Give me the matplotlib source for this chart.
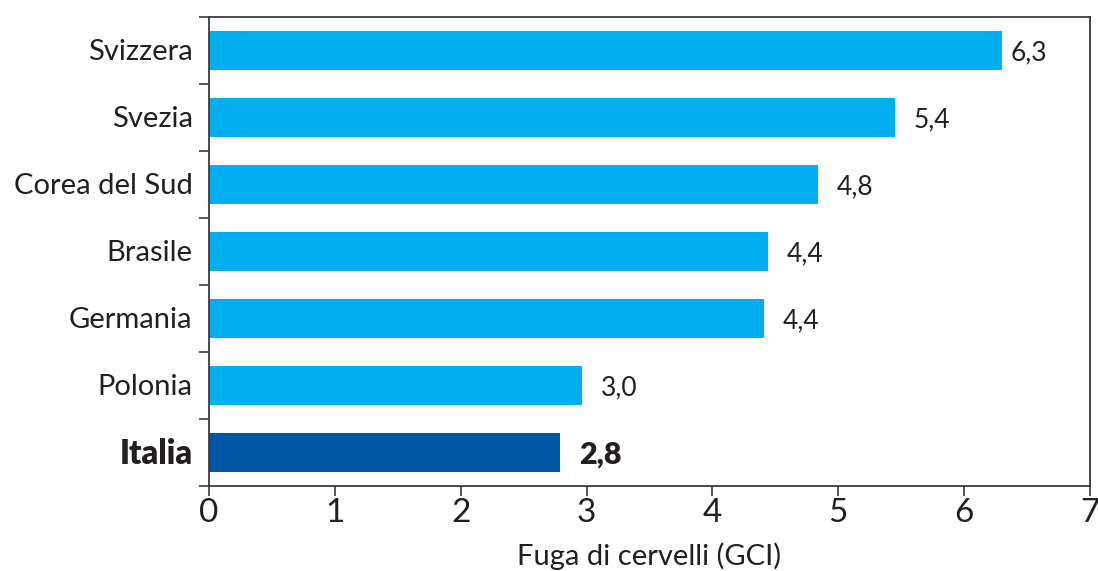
import matplotlib
matplotlib.use("Agg")
import matplotlib.pyplot as plt
import numpy as np

# ── Data ─────────────────────────────────────────────────────────────────────
countries = ["Svizzera", "Svezia", "Corea del Sud", "Brasile", "Germania", "Polonia", "Italia"]
values = [6.3, 5.45, 4.84, 4.44, 4.41, 2.96, 2.79]
labels = ["6,3", "5,4", "4,8", "4,4", "4,4", "3,0", "2,8"]
highlight = "Italia"

C = dict(bar="#00AEEF", hi="#0055A5", text="#231F20", frame="#3A3A3A")

plt.rcParams["font.family"] = ["Lato", "DejaVu Sans"]

fig = plt.figure(figsize=(10.98, 5.71), dpi=100)
ax = fig.add_axes([0.1903, 0.1489, 0.8024, 0.8213])

n = len(countries)
y = np.arange(n)[::-1]
cols = [C["hi"] if c == highlight else C["bar"] for c in countries]
ax.barh(y, values, height=0.58, color=cols, zorder=2)

# value labels (first one sits tighter to the bar, as in the original)
for i, (yi, v, lab, c) in enumerate(zip(y, values, labels, countries)):
    bold = c == highlight
    gap = 0.07 if i == 0 else 0.15
    ax.text(v + gap, yi - 0.03, lab, va="center", ha="left",
            fontsize=22 if bold else 19, color=C["text"],
            fontweight="heavy" if bold else "normal")

ax.set_xlim(0, 7)
ax.set_ylim(-0.5, n - 0.5)
ax.set_xticks(range(8))
ax.tick_params(axis="x", labelsize=24, colors=C["frame"], labelcolor=C["text"],
               length=7, width=1.2, direction="out", pad=2)

# category names as text, tick marks at category boundaries
ax.set_yticks(np.arange(-0.5, n, 1.0))
ax.set_yticklabels([])
ax.tick_params(axis="y", length=7, width=1.2, colors=C["frame"])
for yi, c in zip(y, countries):
    bold = c == highlight
    ax.text(-0.13, yi - 0.02, c, ha="right", va="center",
            fontsize=23.5 if bold else 21, color=C["text"],
            fontweight="heavy" if bold else "normal")

for sp in ax.spines.values():
    sp.set_color(C["frame"])
    sp.set_linewidth(1.3)

ax.set_xlabel("Fuga di cervelli (GCI)", fontsize=21, color=C["text"], labelpad=10)

fig.savefig("out.png", dpi=100)
